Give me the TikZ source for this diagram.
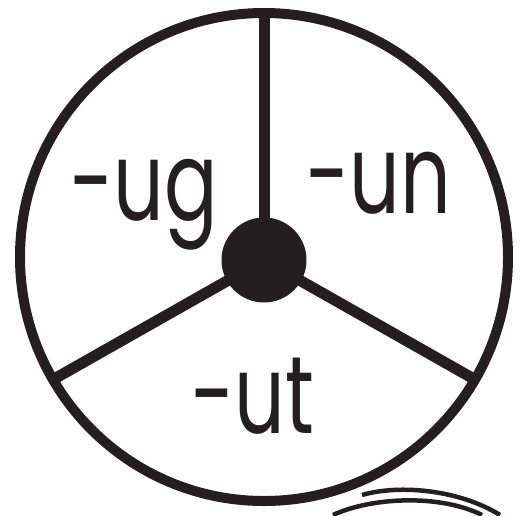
\documentclass[tikz,border=0pt]{standalone}
\usepackage{fontspec}
\newfontfamily\labelfont[FakeStretch=0.72]{Poppins}
\definecolor{ink}{RGB}{35,31,32}
\begin{document}
\begin{tikzpicture}[x=1pt,y=-1pt,
  rim/.style={draw=ink,line width=10pt},
  spoke/.style={draw=ink,line width=11pt},
  hub/.style={circle,fill=ink,minimum size=85pt,inner sep=0pt},
  word/.style={anchor=base west,inner sep=0pt,text=ink,font=\labelfont\fontsize{110}{110}\selectfont},
  thin/.style={draw=ink,line width=4.5pt}]
\useasboundingbox (0,0) rectangle (528,515);
\fill[white] (0,0) rectangle (528,515);
\coordinate (c) at (264,257);
\draw[rim] (c) circle[radius=244];
\node[hub] (h) at (264,260) {};
\coordinate (t) at (264,13);
\coordinate (l) at (54,379);
\coordinate (r) at (474,379);
\draw[spoke] (h.center) -- (t);
\draw[spoke] (h.center) -- (l);
\draw[spoke] (h.center) -- (r);
\node[word] (ug) at (70,220) {-ug};
\node[word] (un) at (306,213) {-un};
\node[word] (ut) at (191,433) {-ut};
\coordinate (a1) at (362,495);
\coordinate (a2) at (500,515);
\coordinate (b1) at (333,515);
\coordinate (b2) at (482,515);
\draw[thin] (a1) .. controls (400,484) and (460,490) .. (a2);
\draw[thin] (b1) .. controls (372,497) and (440,494) .. (b2);
\end{tikzpicture}
\end{document}
